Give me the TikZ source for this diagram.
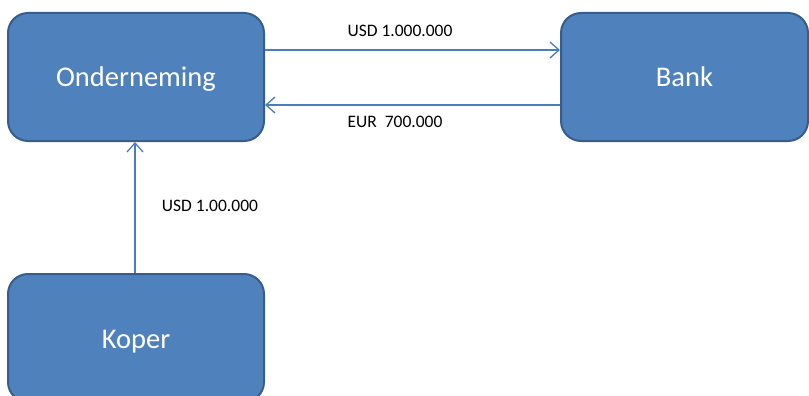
\documentclass[tikz,border=0pt]{standalone}
\usepackage{fontspec}
\setmainfont{Carlito}
\usetikzlibrary{arrows.meta}
\definecolor{boxfill}{HTML}{4F81BD}
\definecolor{boxline}{HTML}{385D8A}
\definecolor{arrowc}{HTML}{4A7EBB}
\tikzset{
  entity/.style={draw=boxline, line width=2pt, fill=boxfill, rounded corners=20pt,
    text=white, font=\fontsize{28.5}{32}\selectfont, inner sep=0pt,
    text height=20pt, text depth=0pt},
  flow/.style={draw=arrowc, line width=1.3pt, -{Straight Barb[length=9pt,width=16pt,line width=1.3pt]}},
  lbl/.style={font=\fontsize{17.5}{20}\selectfont, text=black, inner sep=0pt}
}
\begin{document}
\begin{tikzpicture}[x=1pt,y=-1pt]
\clip (0,0) rectangle (809,396);
\fill[white] (0,0) rectangle (809,396);
\node[entity, minimum width=256pt, minimum height=128pt] (ond) at (136,77) {Onderneming};
\node[entity, minimum width=247pt, minimum height=128pt] (bank) at (684.5,77) {Bank};
\node[entity, minimum width=256pt, minimum height=128pt] (koper) at (136,338) {Koper};
\draw[flow] ([yshift=27pt]ond.east) -- ([yshift=27pt]bank.west);
\draw[flow] ([yshift=-28pt]bank.west) -- ([yshift=-28pt]ond.east);
\draw[flow] ([xshift=-1pt]koper.north) -- ([xshift=-1pt]ond.south);
\node[lbl] (l1) at (400,31) {USD 1.000.000};
\node[lbl] (l2) at (395,122) {EUR\ \ 700.000};
\node[lbl] (l3) at (210,206) {USD 1.00.000};
\end{tikzpicture}
\end{document}
